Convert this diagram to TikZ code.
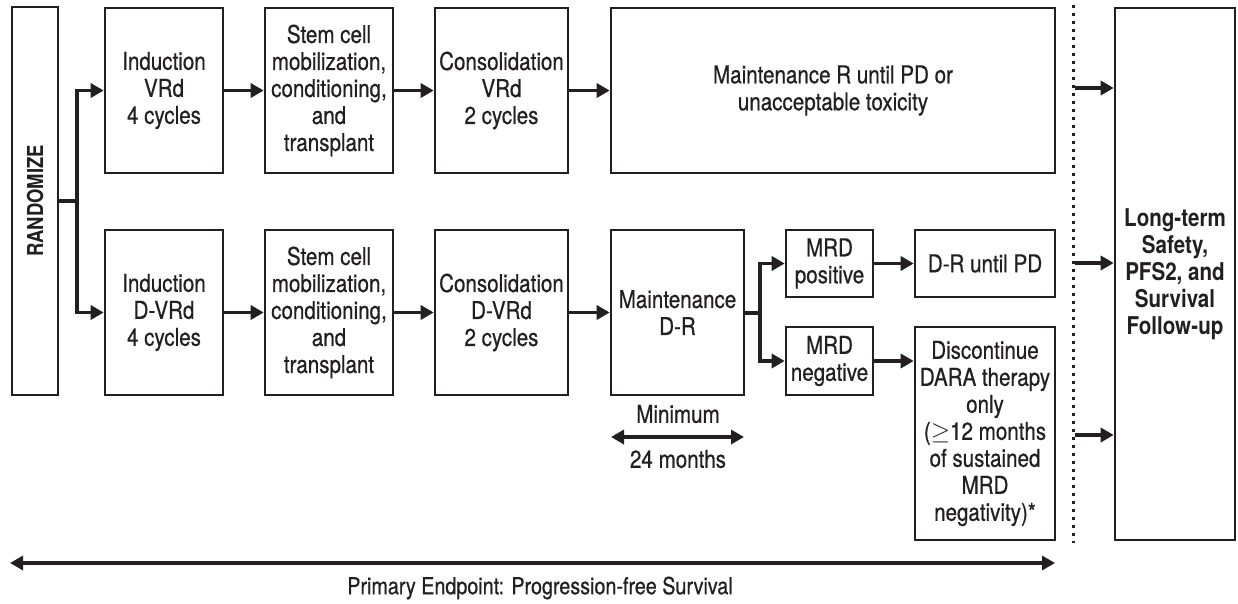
\documentclass[tikz,border=0pt]{standalone}
\usepackage{fontspec}
\setmainfont{TeX Gyre Heros}[FakeStretch=0.84, UprightFeatures={FakeBold=0.6}]
\usetikzlibrary{arrows.meta}
\definecolor{ink}{HTML}{231F20}
\newcommand\bx[6]{\node[box, minimum width={#4-#2}, minimum height={#5-#3}] (#1) at ({(#2+#4)/2},{(#3+#5)/2}) {#6};}
\begin{document}
\begin{tikzpicture}[x=1pt,y=-1pt,
  box/.style={draw=ink, line width=2.6pt, inner sep=0pt, align=center, text=ink, font=\fontsize{24.5}{27}\selectfont},
  lbl/.style={inner sep=0pt, align=center, text=ink, font=\fontsize{24.5}{27}\selectfont},
  line/.style={draw=ink, line width=3.4pt},
  conn/.style={line, -{Triangle[length=13pt,width=14pt]}},
  dbl/.style={line, {Triangle[length=13pt,width=14pt]}-{Triangle[length=13pt,width=14pt]}},
  dots/.style={draw=ink, line width=3pt, dash pattern=on 3pt off 5pt}
]
\useasboundingbox (0,0) rectangle (1238,604);
% boxes
\bx{rand}{12}{7}{58}{395}{}
\node[lbl, rotate=90, font=\fontsize{22}{26}\selectfont\bfseries] (randt) at (rand.center) {RANDOMIZE};
\bx{ind1}{105}{8}{223}{173}{Induction\\VRd\\4 cycles}
\bx{stem1}{265}{8}{393}{173}{Stem cell\\mobilization,\\conditioning,\\and\\transplant}
\bx{cons1}{435}{8}{568}{173}{Consolidation\\VRd\\2 cycles}
\bx{maint1}{611}{8}{1055}{173}{Maintenance R until PD or\\unacceptable toxicity}
\bx{ind2}{105}{230}{223}{395}{Induction\\D-VRd\\4 cycles}
\bx{stem2}{265}{230}{393}{395}{Stem cell\\mobilization,\\conditioning,\\and\\transplant}
\bx{cons2}{435}{230}{568}{395}{Consolidation\\D-VRd\\2 cycles}
\bx{maint2}{611}{230}{744}{395}{Maintenance\\D-R}
\bx{mpos}{786}{230}{873}{297}{MRD\\positive}
\bx{mneg}{786}{327}{873}{395}{MRD\\negative}
\bx{drpd}{915}{230}{1055}{297}{D-R until PD}
\bx{disc}{915}{327}{1055}{540}{Discontinue\\DARA therapy\\only\\($\geq$12 months\\of sustained\\MRD\\negativity)*}
\bx{lt}{1115}{8}{1235}{540}{\bfseries Long-term\\\bfseries Safety,\\\bfseries PFS2, and\\\bfseries Survival\\\bfseries Follow-up}
% randomize fork
\coordinate (br) at (77,201);
\draw[line] (rand.east) -- (br);
\draw[conn] (br) |- (ind1.west);
\draw[conn] (br) |- (ind2.west);
% rows
\draw[conn] (ind1) -- (stem1);
\draw[conn] (stem1) -- (cons1);
\draw[conn] (cons1) -- (maint1);
\draw[conn] (ind2) -- (stem2);
\draw[conn] (stem2) -- (cons2);
\draw[conn] (cons2) -- (maint2);
% MRD fork
\coordinate (br2) at (760,313);
\draw[line] (maint2.east |- br2) -- (br2);
\draw[conn] (br2) |- (mpos.west);
\draw[conn] (br2) |- (mneg.west);
\draw[conn] (mpos) -- (drpd);
\draw[conn] (mneg.east) -- (mneg.east -| disc.west);
% dotted separator
\coordinate (dtop) at (1073,5);
\coordinate (dbot) at (1073,543);
\draw[dots] (dtop) -- (dbot);
\coordinate (a1) at (1075,88);
\coordinate (a2) at (1075,263);
\coordinate (a3) at (1075,435);
\draw[conn] (a1) -- (a1 -| lt.west);
\draw[conn] (a2) -- (a2 -| lt.west);
\draw[conn] (a3) -- (a3 -| lt.west);
% minimum 24 months
\coordinate (mn1) at (611,437);
\coordinate (mn2) at (744,437);
\draw[dbl] (mn1) -- (mn2);
\node[lbl] (minl) at (678,414) {Minimum};
\node[lbl] (monl) at (678,459) {24 months};
% primary endpoint
\coordinate (pe1) at (10,563);
\coordinate (pe2) at (1055,563);
\draw[dbl] (pe1) -- (pe2);
\node[lbl, font=\fontsize{23.5}{27}\selectfont] (pel) at (540,588) {Primary Endpoint: Progression-free Survival};
\end{tikzpicture}
\end{document}
